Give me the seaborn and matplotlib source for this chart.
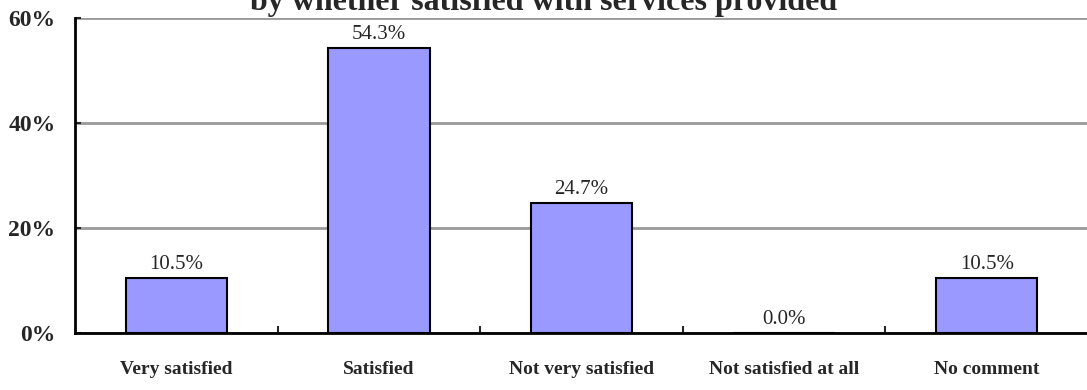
import matplotlib
matplotlib.use("Agg")
import matplotlib.pyplot as plt
import seaborn as sns
import pandas as pd
from matplotlib.ticker import FuncFormatter

categories = ["Very satisfied", "Satisfied", "Not very satisfied", "Not satisfied at all", "No comment"]
values = [10.5, 54.3, 24.7, 0.0, 10.5]
yticks = [0, 20, 40, 60]
title = "by whether satisfied with services provided"

sns.set_style("white")
plt.rcParams['font.family'] = ['Liberation Serif', 'DejaVu Serif']

df = pd.DataFrame({"cat": categories, "val": values})

fig = plt.figure(figsize=(10.87, 3.9), dpi=100)
ax = fig.add_axes([75/1087, 1 - 333/390, (1088-75)/1087, (333-18)/390])

sns.barplot(data=df, x="cat", y="val", ax=ax, color="#9999FF", saturation=1,
            width=0.5, edgecolor="black", linewidth=1.5)

ax.set_xlim(-0.5, 4.5)
ax.set_ylim(0, 60)
ax.set_yticks(yticks)
ax.yaxis.set_major_formatter(FuncFormatter(lambda v, p: f"{v:.0f}%"))
for t in ax.get_yticklabels():
    t.set_fontweight("bold")
    t.set_fontsize(17)
ax.tick_params(axis="y", direction="in", length=4, width=1.5, pad=14, left=True)
ax.yaxis.grid(True, color="#999999", linewidth=2)
ax.set_axisbelow(True)

ax.set_xticks([0.5, 1.5, 2.5, 3.5])
ax.set_xticklabels([])
ax.tick_params(axis="x", direction="in", length=5, width=1.5, bottom=True)
for i, c in enumerate(categories):
    ax.text(i, -0.117, c, transform=ax.get_xaxis_transform(), ha="center", va="center",
            fontsize=14, fontweight="bold")

for i, v in enumerate(values):
    ax.text(i, v + 0.8, f"{v:.1f}%", ha="center", va="bottom", fontsize=15)

ax.set_xlabel("")
ax.set_ylabel("")
for s in ["top", "right"]:
    ax.spines[s].set_visible(False)
for s in ["left", "bottom"]:
    ax.spines[s].set_linewidth(2)
    ax.spines[s].set_color("black")

fig.text(0.5, 1 - 10/390, title, ha="center", va="baseline", fontsize=23, fontweight="bold")

fig.savefig("out.png", dpi=100)
